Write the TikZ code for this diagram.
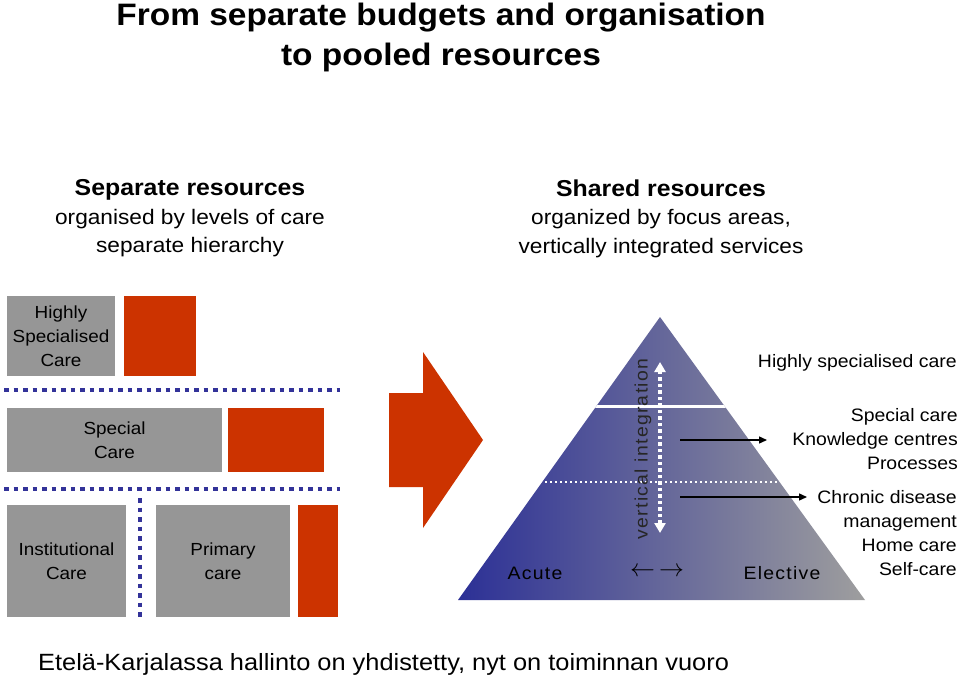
\documentclass[tikz,border=0pt]{standalone}
\usepackage{fontspec}
\setmainfont{Liberation Sans}[FakeStretch=1.08]
\newfontfamily\spacedfont{Liberation Sans}[FakeStretch=1.08, LetterSpace=7]
\usepackage{tikz}
\usetikzlibrary{arrows.meta, positioning}
\definecolor{slidered}{RGB}{204,51,0}
\definecolor{slidegrey}{RGB}{150,150,150}
\definecolor{slideblue}{RGB}{51,51,153}
\definecolor{pyrblue}{RGB}{44,48,150}
\definecolor{pyrgrey}{RGB}{158,158,158}
\tikzset{
	tri/.tip={Triangle[length=8pt, width=7pt]},
	bigtri/.tip={Triangle[length=10pt, width=11pt]},
	levelbox/.style={fill=slidegrey, inner sep=0pt, align=center,
		font=\fontsize{17.5}{24}\selectfont},
	levelline/.style={slideblue, line width=4.5pt, dash pattern=on 4.5pt off 5pt},
	focustext/.style={inner sep=0pt, font=\fontsize{18}{24}\selectfont},
	pyrtext/.style={inner sep=0pt, font=\spacedfont\fontsize{18}{24}\selectfont},
	headline/.style={inner sep=0pt, align=center, font=\bfseries\fontsize{31}{40}\selectfont},
	subhead/.style={inner sep=0pt, align=center, font=\fontsize{21}{28.5}\selectfont},
}

\begin{document}
\begin{tikzpicture}[x=1pt, y=-1pt]
	\useasboundingbox (0,0) rectangle (960,679);
	
	% Titles
	\node[headline] (title) at (441,37.5) {From separate budgets and organisation\\to pooled resources};
	\node[subhead] (separate) at (190,218.5) {{\bfseries\fontsize{23}{28.5}\selectfont Separate resources}\\organised by levels of care\\separate hierarchy};
	\node[subhead] (shared) at (661,218.5) {{\bfseries\fontsize{23}{28.5}\selectfont Shared resources}\\organized by focus areas,\\vertically integrated services};
	
	% Levels of care, left side
	\node[levelbox, minimum width=108pt, minimum height=80pt] (highly) at (61,336) {Highly\\Specialised\\Care};
	\fill[slidered] (124,296) rectangle (196,376);
	\draw[levelline] (4,390) -- (340,390);
	\node[levelbox, minimum width=215pt, minimum height=64pt] (special) at (114.5,440) {Special\\Care};
	\fill[slidered] (228,408) rectangle (324,472);
	\draw[levelline] (4,489) -- (340,489);
	\draw[levelline] (140,498) -- (140,618);
	\node[levelbox, minimum width=119pt, minimum height=112pt] (institutional) at (66.5,561) {Institutional\\Care};
	\node[levelbox, minimum width=134pt, minimum height=112pt] (primary) at (223,561) {Primary\\care};
	\fill[slidered] (298,505) rectangle (338,617);
	
	% Big arrow
	\fill[slidered] (389,393) -- (423,393) -- (423,352) -- (483,440) -- (423,528) -- (423,487) -- (389,487) -- cycle;
	
	% Pyramid
	\coordinate (apex) at (660,317);
	\coordinate (baseleft) at (458,600);
	\coordinate (baseright) at (865,600);
	\shade[left color=pyrblue, right color=pyrgrey] (baseleft) -- (apex) -- (baseright) -- cycle;
	\begin{scope}
		\clip (baseleft) -- (apex) -- (baseright) -- cycle;
		\draw[white, line width=3pt] (450,406) -- (870,406);
		\draw[white, line width=2.2pt, dash pattern=on 2.2pt off 2.8pt] (450,482) -- (870,482);
	\end{scope}
	
	% Vertical integration
	\coordinate (vtop) at (660,362);
	\coordinate (vbot) at (660,533);
	\draw[white, line width=3.5pt, dash pattern=on 3.5pt off 3pt, {bigtri}-{bigtri}] (vbot) -- (vtop);
	\node[pyrtext, rotate=90, text=black!85] (vint) at (643,449) {vertical integration};
	
	\node[pyrtext] (acute) at (535,573) {Acute};
	\node[focustext, font=\fontsize{24}{24}\selectfont] (sideways) at (657,572) {$\leftarrow\,\rightarrow$};
	\node[pyrtext] (elective) at (782,573) {Elective};
	
	% Focus areas, right side
	\node[focustext, anchor=east] (topfocus) at (957,363) {Highly specialised care};
	\node[focustext, anchor=east, align=right] (midfocus) at (958,439) {Special care\\Knowledge centres\\Processes};
	\node[focustext, anchor=east, align=right] (lowfocus) at (957,533) {Chronic disease\\management\\Home care\\Self-care};
	
	\coordinate (midfrom) at (680,440);
	\coordinate (midto) at (767,440);
	\coordinate (lowfrom) at (680,497);
	\coordinate (lowto) at (807,497);
	\draw[line width=1.4pt, -tri] (midfrom) -- (midto);
	\draw[line width=1.4pt, -tri] (lowfrom) -- (lowto);
	
	% Footer
	\node[inner sep=0pt, anchor=west, font=\fontsize{23.5}{28}\selectfont] (footer) at (38,664) {Etelä-Karjalassa hallinto on yhdistetty, nyt on toiminnan vuoro};
\end{tikzpicture}
\end{document}
